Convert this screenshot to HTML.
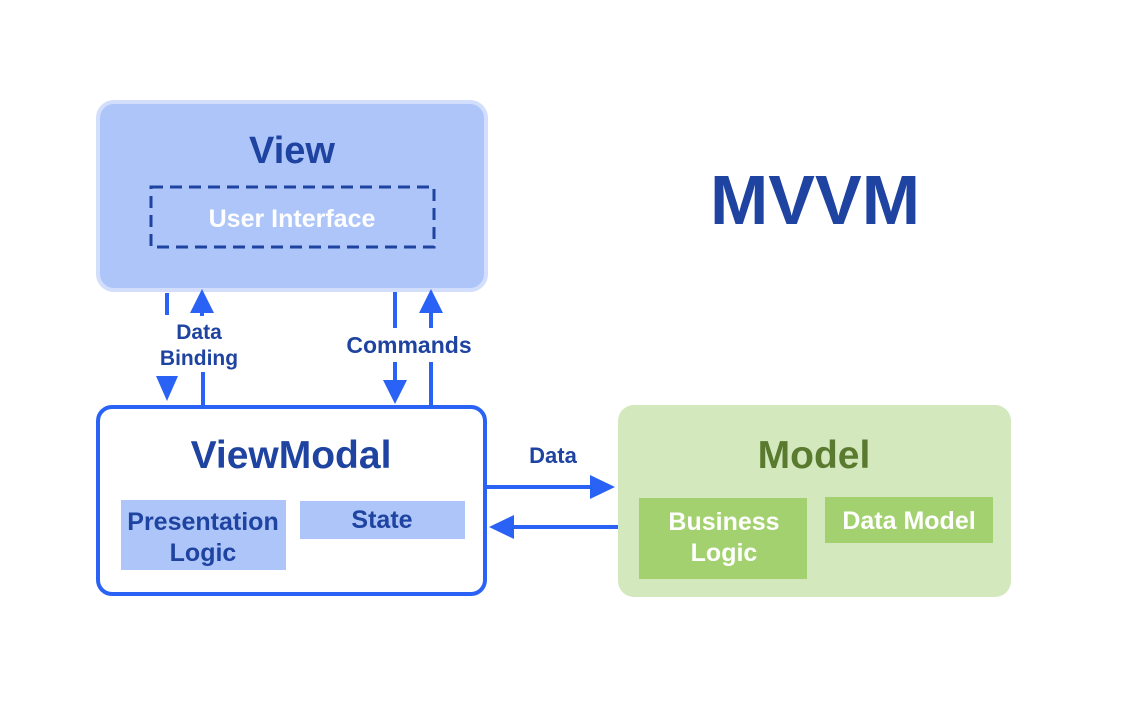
<!DOCTYPE html>
<html><head><style>body{margin:0;background:#fff}svg{display:block}text{font-family:"Liberation Sans",sans-serif;font-weight:bold;text-anchor:middle}</style></head><body>
<svg width="1140" height="716" xmlns="http://www.w3.org/2000/svg">
<rect x="98" y="102" width="388" height="188" rx="16" fill="#adc5f8" stroke="#d2defb" stroke-width="4"/>
<text x="292" y="163" font-size="38" fill="#1e43a0">View</text>
<rect x="151" y="187" width="283" height="60" fill="none" stroke="#1e43a0" stroke-width="3" stroke-dasharray="12,7"/>
<text x="292" y="227" font-size="25" fill="#fff">User Interface</text>
<text x="815" y="224" font-size="70" fill="#1e43a0">MVVM</text>
<rect x="98" y="407" width="387" height="187" rx="14" fill="#fff" stroke="#2962f5" stroke-width="4"/>
<text x="291" y="468" font-size="39" fill="#1e43a0">ViewModal</text>
<rect x="121" y="500" width="165" height="70" fill="#adc5f8"/>
<text x="203" y="530" font-size="25" fill="#1e43a0">Presentation</text>
<text x="203" y="561" font-size="25" fill="#1e43a0">Logic</text>
<rect x="300" y="501" width="165" height="38" fill="#adc5f8"/>
<text x="382" y="528" font-size="25" fill="#1e43a0">State</text>
<rect x="618" y="405" width="393" height="192" rx="16" fill="#d3e8bd"/>
<text x="814" y="468" font-size="39" fill="#5a7a30">Model</text>
<rect x="639" y="498" width="168" height="81" fill="#a3d16f"/>
<text x="724" y="530" font-size="25" fill="#fff">Business</text>
<text x="724" y="561" font-size="25" fill="#fff">Logic</text>
<rect x="825" y="497" width="168" height="46" fill="#a3d16f"/>
<text x="909" y="529" font-size="25" fill="#fff">Data Model</text>
<g stroke="#2962f5" stroke-width="4">
<line x1="167" y1="293" x2="167" y2="315"/>
<line x1="202" y1="310" x2="202" y2="316"/>
<line x1="203" y1="372" x2="203" y2="405"/>
<line x1="395" y1="292" x2="395" y2="328"/>
<line x1="395" y1="362" x2="395" y2="382"/>
<line x1="431" y1="310" x2="431" y2="328"/>
<line x1="431" y1="362" x2="431" y2="405"/>
<line x1="487" y1="487" x2="592" y2="487"/>
<line x1="618" y1="527" x2="512" y2="527"/>
</g>
<g fill="#2962f5">
<polygon points="156,376 178,376 167,401"/>
<polygon points="190,313 214,313 202,289"/>
<polygon points="383,380 407,380 395,404"/>
<polygon points="419,313 443,313 431,289"/>
<polygon points="590,475 615,487 590,499"/>
<polygon points="514,515 489,527 514,539"/>
</g>
<text x="199" y="339" font-size="21" fill="#1e43a0">Data</text>
<text x="199" y="365" font-size="21" fill="#1e43a0">Binding</text>
<text x="409" y="353" font-size="23" fill="#1e43a0">Commands</text>
<text x="553" y="463" font-size="22" fill="#1e43a0">Data</text>
</svg>
</body></html>
